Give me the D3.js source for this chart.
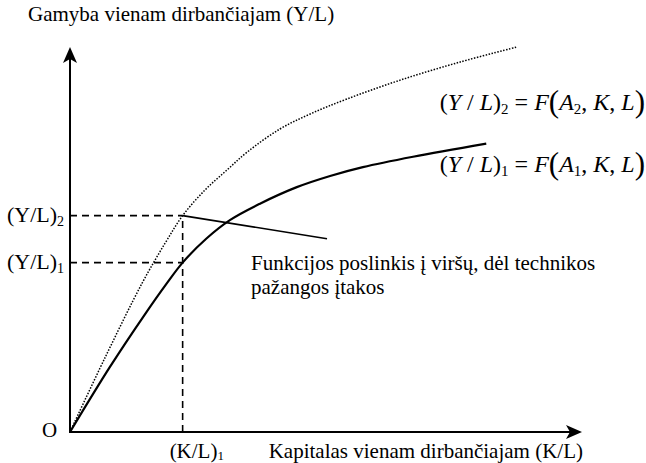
<!DOCTYPE html>
<html>
<head>
<meta charset="utf-8">
<script src="https://cdn.jsdelivr.net/npm/d3@7"></script>
<style>
  body { margin: 0; background: #fff; }
  text { font-family: "Liberation Serif", "Times New Roman", serif; fill: #000; }
</style>
</head>
<body>
<div id="chart"></div>
<script>
// curves: capital per worker (K/L) vs output per worker (Y/L)
var capital1 = [0, 0.78, 1.46, 1.89, 2.2, 2.66, 3.13, 3.71, 4.43, 5.08, 5.72, 6.70, 8.13];
var output1 = [0, 1.69, 3.05, 3.86, 4.4, 5.02, 5.51, 5.93, 6.36, 6.65, 6.88, 7.15, 7.49];
var capital2 = [0, 0.68, 1.41, 1.86, 2.2, 2.64, 3.07, 3.46, 4.10, 4.69, 5.41, 6.45, 7.62, 8.73];
var output2 = [0, 1.92, 3.87, 4.91, 5.62, 6.29, 6.81, 7.27, 7.87, 8.26, 8.65, 9.14, 9.61, 10.0];

var klLevel = 2.2;
var ylLevels = [4.4, 5.62];
var ylSubs = ["1", "2"];
var pointerK = [2.2, 5.02];
var pointerY = [5.62, 5.02];

//setup
var width = 646,
    height = 463;

var x = d3.scaleLinear().domain([0, 10]).range([70, 582]);
var y = d3.scaleLinear().domain([0, 10]).range([432, 47]);

var svg = d3.select("#chart").append("svg")
    .attr("width", width)
    .attr("height", height);

var line = d3.line()
    .x(function (d) { return x(d[0]); })
    .y(function (d) { return y(d[1]); })
    .curve(d3.curveCatmullRom.alpha(0.5));

//dashed guides
svg.selectAll(".hguide").data(ylLevels)
    .enter().append("line")
    .attr("x1", x(0))
    .attr("x2", x(klLevel))
    .attr("y1", function (d) { return y(d); })
    .attr("y2", function (d) { return y(d); })
    .attr("stroke", "#000")
    .attr("stroke-width", 1.6)
    .attr("stroke-dasharray", "7,5");

svg.append("line")
    .attr("x1", x(klLevel))
    .attr("x2", x(klLevel))
    .attr("y1", y(0))
    .attr("y2", y(d3.max(ylLevels)))
    .attr("stroke", "#000")
    .attr("stroke-width", 1.6)
    .attr("stroke-dasharray", "7,5");

//curves
svg.append("path")
    .datum(d3.zip(capital2, output2))
    .attr("d", line)
    .attr("fill", "none")
    .attr("stroke", "#000")
    .attr("stroke-width", 1.5)
    .attr("stroke-dasharray", "1.5,1.5");

svg.append("path")
    .datum(d3.zip(capital1, output1))
    .attr("d", line)
    .attr("fill", "none")
    .attr("stroke", "#000")
    .attr("stroke-width", 2.2);

//pointer line
svg.append("line")
    .attr("x1", x(pointerK[0]))
    .attr("y1", y(pointerY[0]))
    .attr("x2", x(pointerK[1]))
    .attr("y2", y(pointerY[1]))
    .attr("stroke", "#000")
    .attr("stroke-width", 1.6);

//axes with arrows
var x0 = x(0), y0 = y(0), xe = x(10), ye = y(10);
svg.append("line")
    .attr("x1", x0).attr("y1", y0)
    .attr("x2", xe - 12).attr("y2", y0)
    .attr("stroke", "#000").attr("stroke-width", 2);
svg.append("line")
    .attr("x1", x0).attr("y1", y0 + 1)
    .attr("x2", x0).attr("y2", ye + 12)
    .attr("stroke", "#000").attr("stroke-width", 2);

svg.append("path")
    .attr("d", "M" + xe + "," + y0 + "L" + (xe - 16) + "," + (y0 - 7) +
        "L" + (xe - 12) + "," + y0 + "L" + (xe - 16) + "," + (y0 + 7) + "Z")
    .attr("fill", "#000");
svg.append("path")
    .attr("d", "M" + x0 + "," + ye + "L" + (x0 - 7) + "," + (ye + 16) +
        "L" + x0 + "," + (ye + 12) + "L" + (x0 + 7) + "," + (ye + 16) + "Z")
    .attr("fill", "#000");

//labels
svg.append("text")
    .attr("x", 28).attr("y", 21)
    .style("font-size", "21px")
    .text("Gamyba vienam dirbančiajam (Y/L)");

svg.append("text")
    .attr("x", 583).attr("y", 458)
    .attr("text-anchor", "end")
    .style("font-size", "21px")
    .text("Kapitalas vienam dirbančiajam (K/L)");

svg.append("text")
    .attr("x", 42).attr("y", 437)
    .style("font-size", "21px")
    .text("O");

var kl = svg.append("text")
    .attr("x", x(klLevel) - 13).attr("y", 458)
    .style("font-size", "21px");
kl.append("tspan").text("(K/L)");
kl.append("tspan").attr("dy", 2).style("font-size", "13px").text("1");

svg.selectAll(".ylab").data(ylLevels)
    .enter().append("text")
    .attr("x", 7)
    .attr("y", function (d) { return y(d) + 6; })
    .style("font-size", "22px")
    .each(function (d, i) {
        var t = d3.select(this);
        t.append("tspan").text("(Y/L)");
        t.append("tspan").attr("dy", 4).style("font-size", "14px").text(ylSubs[i]);
    });

var note = svg.append("text")
    .attr("x", 251).attr("y", 270)
    .style("font-size", "21px");
note.append("tspan").text("Funkcijos poslinkis į viršų, dėl technikos");
note.append("tspan").attr("x", 251).attr("dy", 24).text("pažangos įtakos");

//formulas
function formula(yPos, sub) {
    var t = svg.append("text")
        .attr("x", 645).attr("y", yPos)
        .attr("text-anchor", "end")
        .style("font-size", "24px");
    t.append("tspan").text("(");
    t.append("tspan").style("font-style", "italic").text("Y");
    t.append("tspan").text(" / ");
    t.append("tspan").style("font-style", "italic").text("L");
    t.append("tspan").text(")");
    t.append("tspan").attr("dy", 4).style("font-size", "15px").text(sub);
    t.append("tspan").attr("dy", -4).text(" = ");
    t.append("tspan").style("font-style", "italic").text("F");
    t.append("tspan").attr("dy", 2).style("font-size", "31px").text("(");
    t.append("tspan").attr("dy", -2).style("font-style", "italic").text("A");
    t.append("tspan").attr("dy", 4).style("font-size", "15px").text(sub);
    t.append("tspan").attr("dy", -4).text(", ");
    t.append("tspan").style("font-style", "italic").text("K");
    t.append("tspan").text(", ");
    t.append("tspan").style("font-style", "italic").text("L");
    t.append("tspan").attr("dy", 2).style("font-size", "31px").text(")");
}
formula(110, "2");
formula(172, "1");
</script>
</body>
</html>
